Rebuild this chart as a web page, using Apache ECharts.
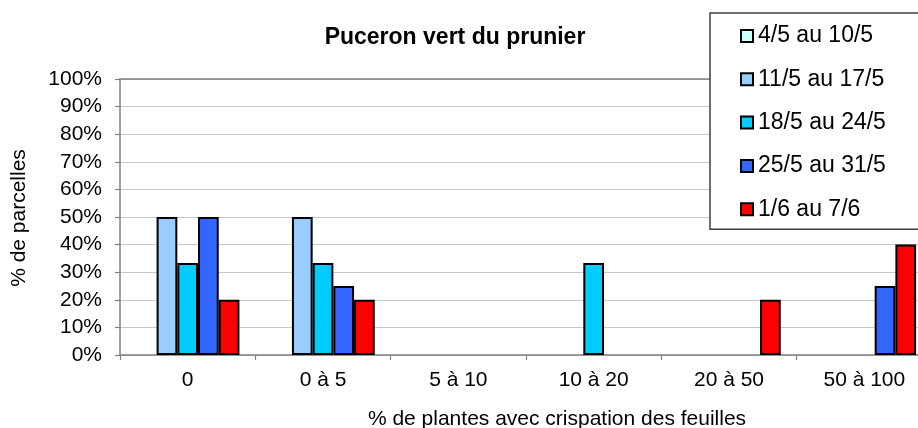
<!DOCTYPE html>
<html>
<head>
<meta charset="utf-8">
<script src="https://cdn.jsdelivr.net/npm/echarts@6/dist/echarts.min.js"></script>
<style>
html,body{margin:0;padding:0;background:#fff;overflow:hidden;width:918px;height:428px;}
#chart{width:932px;height:428px;}
</style>
</head>
<body>
<div id="chart"></div>
<script>
var categories = ['0', '0 à 5', '5 à 10', '10 à 20', '20 à 50', '50 à 100'];
var seriesNames = ['4/5 au 10/5', '11/5 au 17/5', '18/5 au 24/5', '25/5 au 31/5', '1/6 au 7/6'];
var s1 = [0, 0, 0, 0, 0, 0];
var s2 = [50, 50, 0, 0, 0, 0];
var s3 = [33.3, 33.3, 0, 33.3, 0, 0];
var s4 = [50, 25, 0, 0, 0, 25];
var s5 = [20, 20, 0, 0, 20, 40];
var seriesValues = [s1, s2, s3, s4, s5];
var colors = ['#CCFFFF', '#99CCFF', '#00CCFF', '#3366FF', '#FF0000'];
var titleText = 'Puceron vert du prunier';
var xTitle = '% de plantes avec crispation des feuilles';
var yTitle = '% de parcelles';

var FONT = 'Liberation Sans, Arial, sans-serif';
var chart = echarts.init(document.getElementById('chart'), null, {renderer: 'canvas'});

var series = seriesValues.map(function (vals, i) {
  return {
    name: seriesNames[i],
    type: 'bar',
    xAxisIndex: 0,
    data: vals.map(function (v) { return v === 0 ? '-' : v; }),
    barGap: '0%',
    barCategoryGap: '23.5%',
    itemStyle: { color: colors[i], borderColor: '#000', borderWidth: 2 },
    emphasis: { disabled: true },
    animation: false
  };
});

chart.setOption({
  animation: false,
  grid: { left: 120, top: 79, bottom: 73, right: 0, containLabel: false },
  xAxis: [{
    type: 'category',
    data: categories,
    position: 'bottom',
    axisLine: { lineStyle: { color: '#808080', width: 1.5 } },
    axisTick: { show: true, length: 5, inside: false, lineStyle: { color: '#808080', width: 1.2 } },
    axisLabel: { color: '#000', fontFamily: FONT, fontSize: 21, margin: 15 },
    splitLine: { show: false }
  }, {
    type: 'category',
    data: categories,
    position: 'top',
    axisLine: { show: true, lineStyle: { color: '#808080', width: 1.5 } },
    axisTick: { show: false },
    axisLabel: { show: false },
    splitLine: { show: false }
  }],
  yAxis: {
    type: 'value',
    min: 0, max: 100, interval: 10,
    axisLine: { show: true, lineStyle: { color: '#808080', width: 1.5 } },
    axisTick: { show: true, length: 5, lineStyle: { color: '#808080', width: 1.2 } },
    axisLabel: { color: '#000', fontFamily: FONT, fontSize: 21, margin: 18, formatter: '{value}%' },
    splitLine: { show: true, lineStyle: { color: '#C8C8C8', width: 1.2 } }
  },
  legend: {
    orient: 'vertical',
    left: 710, top: 13,
    padding: [11, 80, 8, 30],
    itemWidth: 12, itemHeight: 12,
    itemGap: 19.3,
    icon: 'rect',
    backgroundColor: '#fff',
    borderColor: '#404040', borderWidth: 1.5,
    textStyle: { color: '#000', fontFamily: FONT, fontSize: 23, lineHeight: 24 },
    itemStyle: { borderColor: '#000', borderWidth: 2 },
    data: seriesNames,
    z: 10
  },
  graphic: [
    { type: 'text', x: 455, y: 38, z: 20,
      style: { text: titleText, font: 'bold 23px ' + FONT, fill: '#000', textAlign: 'center', textVerticalAlign: 'middle' } },
    { type: 'text', x: 557, y: 419, z: 20,
      style: { text: xTitle, font: '21px ' + FONT, fill: '#000', textAlign: 'center', textVerticalAlign: 'middle' } },
    { type: 'text', x: 19, y: 218, rotation: Math.PI / 2, z: 20,
      style: { text: yTitle, font: '21px ' + FONT, fill: '#000', textAlign: 'center', textVerticalAlign: 'middle' } }
  ],
  series: series
});
</script>
</body>
</html>
